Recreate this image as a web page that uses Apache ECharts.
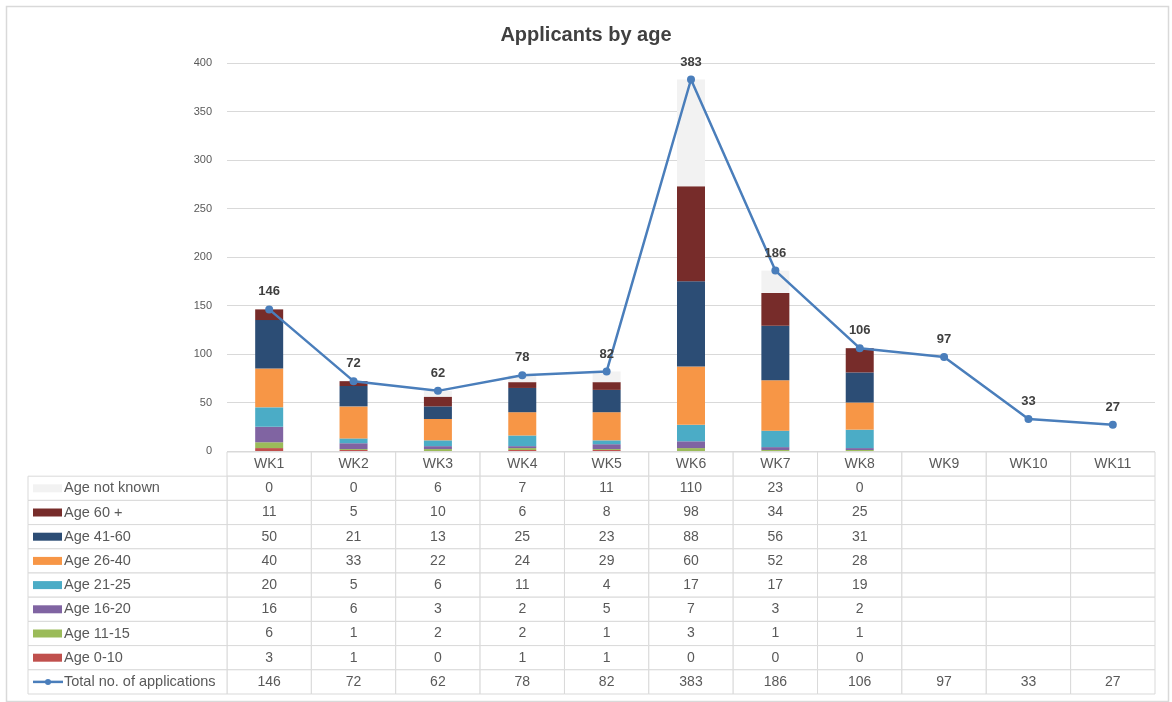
<!DOCTYPE html>
<html>
<head>
<meta charset="utf-8">
<script src="https://cdn.jsdelivr.net/npm/echarts@6/dist/echarts.min.js"></script>
<style>
  html, body { margin: 0; padding: 0; background: #fff; }
  #chart { width: 1172px; height: 702px; }
</style>
</head>
<body>
<div id="chart"></div>
<script>
// categories
var weeks = ['WK1', 'WK2', 'WK3', 'WK4', 'WK5', 'WK6', 'WK7', 'WK8', 'WK9', 'WK10', 'WK11'];
// age groups (only WK1-WK8 known)
var age0_10 = [3, 1, 0, 1, 1, 0, 0, 0];
var age11_15 = [6, 1, 2, 2, 1, 3, 1, 1];
var age16_20 = [16, 6, 3, 2, 5, 7, 3, 2];
var age21_25 = [20, 5, 6, 11, 4, 17, 17, 19];
var age26_40 = [40, 33, 22, 24, 29, 60, 52, 28];
var age41_60 = [50, 21, 13, 25, 23, 88, 56, 31];
var age60plus = [11, 5, 10, 6, 8, 98, 34, 25];
var ageUnknown = [0, 0, 6, 7, 11, 110, 23, 0];
var totals = [146, 72, 62, 78, 82, 383, 186, 106, 97, 33, 27];
var yTicks = [0, 50, 100, 150, 200, 250, 300, 350, 400];

// stacked bottom to top
var barSeries = [
  { name: 'Age 0-10', data: age0_10, color: '#C0504D' },
  { name: 'Age 11-15', data: age11_15, color: '#9BBB59' },
  { name: 'Age 16-20', data: age16_20, color: '#8064A2' },
  { name: 'Age 21-25', data: age21_25, color: '#4BACC6' },
  { name: 'Age 26-40', data: age26_40, color: '#F79646' },
  { name: 'Age 41-60', data: age41_60, color: '#2C4D75' },
  { name: 'Age 60 +', data: age60plus, color: '#772C2A' },
  { name: 'Age not known', data: ageUnknown, color: '#F2F2F2' }
];
var lineColor = '#4A7EBB';
var textColor = '#595959';
var gridColor = '#D9D9D9';
var font = 'Liberation Sans';

// data table rows: header, then legend order (top of stack first), then total
var tableRows = [{ name: '', values: weeks, kind: 'header' }];
barSeries.slice().reverse().forEach(function (s) {
  tableRows.push({ name: s.name, values: s.data, kind: 'bar', color: s.color });
});
tableRows.push({ name: 'Total no. of applications', values: totals, kind: 'line', color: lineColor });
var rowIdx = tableRows.map(function (r, i) { return i; });

var cellData = [];
var cellText = [];
tableRows.forEach(function (row, r) {
  weeks.forEach(function (w, c) {
    cellData.push([c, r]);
    var v = row.values[c];
    cellText.push(v === undefined || v === null ? '' : String(v));
  });
});
var labelData = [];
tableRows.forEach(function (row, r) {
  if (row.kind !== 'header') labelData.push([0, r]);
});

var labelColWidth = 199;

var chart = echarts.init(document.getElementById('chart'));
var option = {
  animation: false,
  backgroundColor: '#fff',
  title: {
    text: 'Applicants by age',
    left: 'center',
    top: 20,
    textStyle: { fontFamily: font, fontSize: 20, fontWeight: 'bold', color: '#404040' }
  },
  graphic: [{
    type: 'rect',
    left: 4, top: 4,
    shape: { width: 1162, height: 695 },
    style: { fill: 'none', stroke: gridColor, lineWidth: 1.5 },
    z: -1
  }],
  grid: [
    { left: 227, right: 17, top: 63, bottom: 251 },
    { left: 227, right: 17, top: 452, bottom: 8 }
  ],
  xAxis: [
    {
      gridIndex: 0, type: 'category', data: weeks,
      axisLine: { show: false }, axisTick: { show: false }, axisLabel: { show: false }
    },
    {
      gridIndex: 1, type: 'category', data: weeks,
      axisLine: { show: false }, axisTick: { show: false }, axisLabel: { show: false }
    }
  ],
  yAxis: [
    {
      gridIndex: 0, type: 'value', min: yTicks[0], max: yTicks[yTicks.length - 1], interval: 50,
      axisLine: { show: false }, axisTick: { show: false },
      axisLabel: { color: textColor, fontFamily: font, fontSize: 11, margin: 15 },
      splitLine: { lineStyle: { color: gridColor, width: 1 } }
    },
    {
      gridIndex: 1, type: 'category', data: rowIdx, inverse: true,
      axisLine: { show: false }, axisTick: { show: false }, axisLabel: { show: false }
    }
  ],
  series: barSeries.map(function (s) {
    return {
      name: s.name, type: 'bar', stack: 'age', data: s.data,
      barWidth: 28, xAxisIndex: 0, yAxisIndex: 0,
      itemStyle: { color: s.color }
    };
  }).concat([
    {
      name: 'Total no. of applications', type: 'line', data: totals,
      xAxisIndex: 0, yAxisIndex: 0, z: 5,
      symbol: 'circle', symbolSize: 8,
      lineStyle: { color: lineColor, width: 2.5 },
      itemStyle: { color: lineColor },
      label: {
        show: true, position: 'top', distance: 7,
        fontFamily: font, fontSize: 13, fontWeight: 'bold', color: '#404040'
      }
    },
    {
      // data table cells
      type: 'custom', xAxisIndex: 1, yAxisIndex: 1, data: cellData,
      renderItem: function (params, api) {
        var p = api.coord([api.value(0), api.value(1)]);
        var sz = api.size([1, 1]);
        return {
          type: 'group',
          children: [
            {
              type: 'rect',
              shape: { x: p[0] - sz[0] / 2, y: p[1] - sz[1] / 2, width: sz[0], height: sz[1] },
              style: { fill: '#fff', stroke: gridColor, lineWidth: 1 }
            },
            {
              type: 'text',
              style: {
                x: p[0], y: p[1], text: cellText[params.dataIndex],
                align: 'center', verticalAlign: 'middle',
                fill: textColor, font: '14px "' + font + '"'
              }
            }
          ]
        };
      }
    },
    {
      // data table legend column
      type: 'custom', xAxisIndex: 1, yAxisIndex: 1, data: labelData,
      renderItem: function (params, api) {
        var row = tableRows[api.value(1)];
        var p = api.coord([0, api.value(1)]);
        var sz = api.size([1, 1]);
        var x0 = params.coordSys.x - labelColWidth;
        var kids = [
          {
            type: 'rect',
            shape: { x: x0, y: p[1] - sz[1] / 2, width: labelColWidth, height: sz[1] },
            style: { fill: '#fff', stroke: gridColor, lineWidth: 1 }
          },
          {
            type: 'text',
            style: {
              x: x0 + 36, y: p[1], text: row.name,
              align: 'left', verticalAlign: 'middle',
              fill: textColor, font: '14.5px "' + font + '"'
            }
          }
        ];
        if (row.kind === 'bar') {
          kids.push({
            type: 'rect',
            shape: { x: x0 + 5, y: p[1] - 4, width: 29, height: 8 },
            style: { fill: row.color }
          });
        } else {
          kids.push({
            type: 'line',
            shape: { x1: x0 + 5, y1: p[1], x2: x0 + 35, y2: p[1] },
            style: { stroke: row.color, lineWidth: 2.5 }
          });
          kids.push({
            type: 'circle',
            shape: { cx: x0 + 20, cy: p[1], r: 3 },
            style: { fill: row.color }
          });
        }
        return { type: 'group', children: kids };
      }
    }
  ])
};
chart.setOption(option);
</script>
</body>
</html>
